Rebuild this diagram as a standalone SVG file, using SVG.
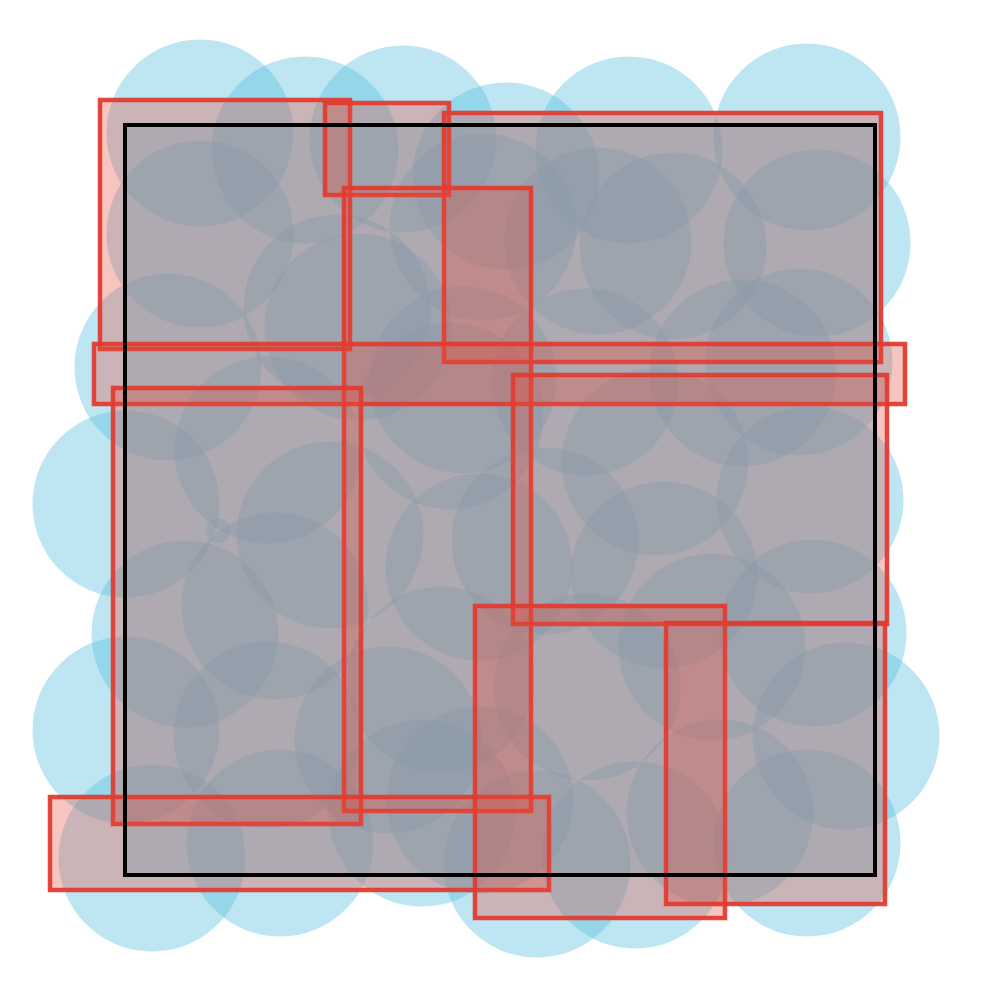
<svg xmlns="http://www.w3.org/2000/svg" width="1000" height="1000" viewBox="0 0 1000 1000">
<style>
.c{fill:#5bc0de;fill-opacity:0.4;stroke:none}
.r{fill:#e74c3c;fill-opacity:0.32;stroke:#e03c31;stroke-width:4.5;stroke-opacity:0.95}
.sq{fill:#5bc0de;fill-opacity:0.4;stroke:none}
.sqs{fill:none;stroke:#000;stroke-width:4}
</style>
<rect width="1000" height="1000" fill="#fff"/>
<g id="circles">
<circle class="c" cx="200" cy="133" r="93.5"/>
<circle class="c" cx="305" cy="150" r="93.5"/>
<circle class="c" cx="403" cy="139" r="93.5"/>
<circle class="c" cx="506" cy="176" r="93.5"/>
<circle class="c" cx="629" cy="150" r="93.5"/>
<circle class="c" cx="807" cy="137" r="93.5"/>
<circle class="c" cx="200" cy="234" r="93.5"/>
<circle class="c" cx="483" cy="227" r="93.5"/>
<circle class="c" cx="598" cy="241" r="93.5"/>
<circle class="c" cx="673" cy="246" r="93.5"/>
<circle class="c" cx="817" cy="243" r="93.5"/>
<circle class="c" cx="168" cy="367" r="93.5"/>
<circle class="c" cx="337" cy="308" r="93.5"/>
<circle class="c" cx="358" cy="327" r="93.5"/>
<circle class="c" cx="463" cy="380" r="93.5"/>
<circle class="c" cx="450" cy="416" r="93.5"/>
<circle class="c" cx="585" cy="382" r="93.5"/>
<circle class="c" cx="743" cy="373" r="93.5"/>
<circle class="c" cx="799" cy="362" r="93.5"/>
<circle class="c" cx="126" cy="504" r="93.5"/>
<circle class="c" cx="268" cy="450" r="93.5"/>
<circle class="c" cx="330" cy="535" r="93.5"/>
<circle class="c" cx="655" cy="462" r="93.5"/>
<circle class="c" cx="545" cy="541" r="93.5"/>
<circle class="c" cx="810" cy="500" r="93.5"/>
<circle class="c" cx="479" cy="567" r="93.5"/>
<circle class="c" cx="664" cy="575" r="93.5"/>
<circle class="c" cx="185" cy="634" r="93.5"/>
<circle class="c" cx="275" cy="606" r="93.5"/>
<circle class="c" cx="712" cy="647" r="93.5"/>
<circle class="c" cx="813" cy="633" r="93.5"/>
<circle class="c" cx="587" cy="687" r="93.5"/>
<circle class="c" cx="126" cy="730" r="93.5"/>
<circle class="c" cx="267" cy="735" r="93.5"/>
<circle class="c" cx="388" cy="740" r="93.5"/>
<circle class="c" cx="441" cy="680" r="93.5"/>
<circle class="c" cx="846" cy="736" r="93.5"/>
<circle class="c" cx="152" cy="858" r="93.5"/>
<circle class="c" cx="280" cy="843" r="93.5"/>
<circle class="c" cx="422" cy="813" r="93.5"/>
<circle class="c" cx="480" cy="800" r="93.5"/>
<circle class="c" cx="537" cy="864" r="93.5"/>
<circle class="c" cx="635" cy="855" r="93.5"/>
<circle class="c" cx="720" cy="813" r="93.5"/>
<circle class="c" cx="807" cy="843" r="93.5"/>
<circle class="c" cx="218" cy="531" r="12.5"/>
</g>
<rect id="square-fill" class="sq" x="125" y="125" width="750" height="750"/>
<g id="rects">
<rect class="r" x="100" y="100" width="250" height="249"/>
<rect class="r" x="325" y="103" width="124" height="92"/>
<rect class="r" x="444" y="113" width="437" height="249"/>
<rect class="r" x="344" y="188" width="187" height="623"/>
<rect class="r" x="94" y="344" width="811" height="60"/>
<rect class="r" x="113" y="388" width="248" height="436"/>
<rect class="r" x="513" y="375" width="374" height="249"/>
<rect class="r" x="50" y="797" width="499" height="93"/>
<rect class="r" x="475" y="606" width="250" height="312"/>
<rect class="r" x="666" y="623" width="219" height="281"/>
</g>
<rect id="square" class="sqs" x="125" y="125" width="750" height="750"/>
</svg>
